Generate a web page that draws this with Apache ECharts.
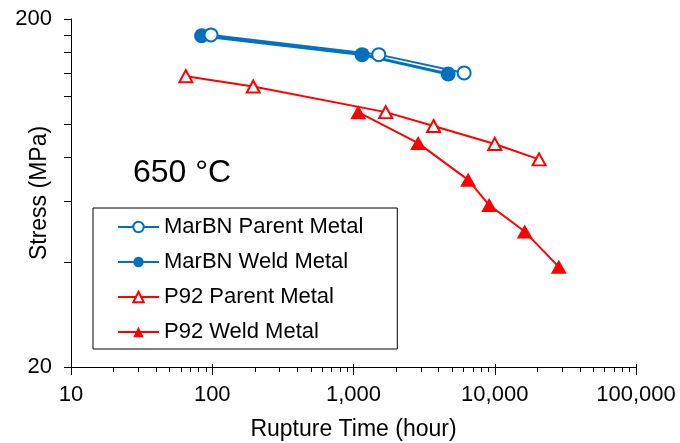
<!DOCTYPE html>
<html>
<head>
<meta charset="utf-8">
<script src="https://cdn.jsdelivr.net/npm/echarts@6/dist/echarts.min.js"></script>
<style>
  html, body { margin: 0; padding: 0; background: #fff; }
  #chart { width: 680px; height: 443px; }
</style>
</head>
<body>
<div id="chart"></div>
<script>
// Creep rupture data at 650 °C: rupture time (hour) vs. stress (MPa)
const marbnParentTime = [98, 1510, 6070];
const marbnParentStress = [180, 158, 140];
const marbnWeldTime = [84, 1150, 4680];
const marbnWeldStress = [179, 158, 139];
const p92ParentTime = [65, 195, 1690, 3690, 10000, 20600];
const p92ParentStress = [137, 128, 108, 98.5, 87.5, 79];
const p92WeldTime = [1080, 2870, 6480, 9130, 16300, 28400];
const p92WeldStress = [108, 88, 69, 58.4, 49, 38.8];

// Axis ticks and labels
const xMajorTicks = [10, 100, 1000, 10000, 100000];
const xMinorTicks = [20, 30, 40, 50, 60, 70, 80, 90,
  200, 300, 400, 500, 600, 700, 800, 900,
  2000, 3000, 4000, 5000, 6000, 7000, 8000, 9000,
  20000, 30000, 40000, 50000, 60000, 70000, 80000, 90000];
const yTicks = [20, 40, 60, 80, 100, 120, 140, 160, 180, 200];
const yLabels = [20, 200];

const BLUE = '#0070C0';
const RED = '#FF0000';
const FONT = 'Liberation Sans, Arial, sans-serif';

const pairs = (xs, ys) => xs.map((x, i) => [x, ys[i]]);

const chart = echarts.init(document.getElementById('chart'), null, { renderer: 'canvas' });

// Shared settings for the stacked bottom time axes (labels, minor ticks, inner major ticks)
const baseX = {
  type: 'log', logBase: 10, min: 10, max: 100000,
  position: 'bottom',
  splitLine: { show: false }
};

chart.setOption({
  animation: false,
  title: {
    text: '650 °C',
    left: 133, top: 157,
    padding: 0,
    textStyle: { fontFamily: FONT, fontSize: 32, fontWeight: 'normal', color: '#000' }
  },
  grid: {
    left: 71, right: 44, top: 19, bottom: 76,
    containLabel: false,
    outerBoundsMode: 'none'
  },
  legend: {
    orient: 'vertical',
    left: 93, top: 208,
    padding: [8, 34, 6, 24],
    itemGap: 13,
    itemWidth: 41,
    itemHeight: 13,
    borderColor: '#000',
    borderWidth: 1,
    backgroundColor: '#fff',
    textStyle: { fontFamily: FONT, fontSize: 22, color: '#000' },
    data: ['MarBN Parent Metal', 'MarBN Weld Metal', 'P92 Parent Metal', 'P92 Weld Metal']
  },
  xAxis: [
    Object.assign({}, baseX, {
      name: 'Rupture Time (hour)',
      nameLocation: 'middle',
      nameGap: 51,
      nameMoveOverlap: false,
      nameTextStyle: { fontFamily: FONT, fontSize: 23, color: '#000' },
      axisLine: { lineStyle: { color: '#000', width: 1 } },
      axisTick: { show: true, customValues: xMajorTicks, length: 8, lineStyle: { color: '#000' } },
      axisLabel: {
        customValues: xMajorTicks,
        margin: 17,
        fontFamily: FONT, fontSize: 22, color: '#000',
        formatter: v => Number(v).toLocaleString('en-US')
      }
    }),
    Object.assign({}, baseX, {
      axisLine: { show: false },
      axisTick: { show: true, customValues: xMinorTicks, length: 5, lineStyle: { color: '#000' } },
      axisLabel: { show: false }
    }),
    Object.assign({}, baseX, {
      axisLine: { show: false },
      axisTick: { show: true, inside: true, customValues: xMajorTicks, length: 3, lineStyle: { color: '#000' } },
      axisLabel: { show: false }
    })
  ],
  yAxis: {
    type: 'log', logBase: 10, min: 20, max: 200,
    name: 'Stress (MPa)',
    nameLocation: 'middle',
    nameGap: 20,
    nameMoveOverlap: false,
    nameTextStyle: { fontFamily: FONT, fontSize: 23, color: '#000' },
    splitLine: { show: false },
    axisLine: { show: true, lineStyle: { color: '#000', width: 1 } },
    axisTick: { show: true, customValues: yTicks, length: 7, lineStyle: { color: '#000' } },
    axisLabel: {
      customValues: yLabels,
      margin: 19,
      fontFamily: FONT, fontSize: 22, color: '#000'
    }
  },
  series: [
    {
      name: 'MarBN Weld Metal', type: 'line', z: 2,
      data: pairs(marbnWeldTime, marbnWeldStress),
      symbol: 'circle', symbolSize: 15,
      lineStyle: { color: BLUE, width: 3 },
      itemStyle: { color: BLUE }
    },
    {
      name: 'MarBN Parent Metal', type: 'line', z: 3,
      data: pairs(marbnParentTime, marbnParentStress),
      symbol: 'circle', symbolSize: 13,
      lineStyle: { color: BLUE, width: 2 },
      itemStyle: { color: '#fff', borderColor: BLUE, borderWidth: 2 }
    },
    {
      name: 'P92 Parent Metal', type: 'line', z: 2,
      data: pairs(p92ParentTime, p92ParentStress),
      symbol: 'triangle', symbolSize: [13, 12],
      lineStyle: { color: RED, width: 2 },
      itemStyle: { color: '#fff', borderColor: RED, borderWidth: 2 }
    },
    {
      name: 'P92 Weld Metal', type: 'line', z: 3,
      data: pairs(p92WeldTime, p92WeldStress),
      symbol: 'triangle', symbolSize: [16, 14],
      lineStyle: { color: RED, width: 2 },
      itemStyle: { color: RED }
    }
  ]
});
</script>
</body>
</html>
